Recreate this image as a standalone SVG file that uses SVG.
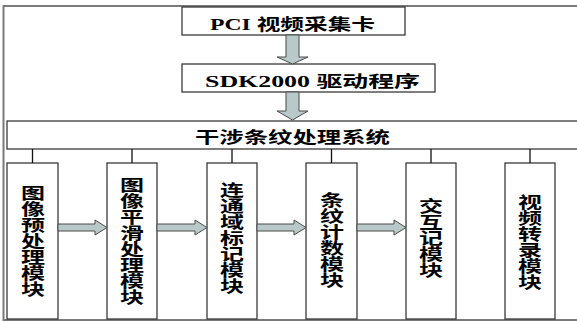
<svg xmlns="http://www.w3.org/2000/svg" width="577" height="322" viewBox="0 0 577 322">
<defs>
<style>
.box{fill:#fff;stroke:#3a3a3a;stroke-width:1.3}
.arr{fill:#b9c9c9;stroke:#4a4a4a;stroke-width:1}
.tick{stroke:#111;stroke-width:1.3}
.frame{fill:none;stroke:#7a7a7a;stroke-width:2}
.ht{font-family:"Liberation Serif","Noto Sans CJK SC",serif;font-weight:bold;font-size:16px;fill:#000}
.st{font-family:"Noto Sans CJK SC","Noto Sans",sans-serif;font-weight:bold;font-size:16px;fill:#000}
.vt{font-family:"Noto Sans CJK SC","Noto Sans",sans-serif;font-weight:bold;font-size:16px;fill:#000;writing-mode:vertical-rl;text-anchor:middle}
</style>
</defs>
<rect width="577" height="322" fill="#fff"/>
<path class="frame" d="M577,6 H3.5 V320 H577"/>

<g id="pci">
<rect class="box" x="182" y="7" width="223" height="28"/>
<text class="ht" x="210" y="30" textLength="165" lengthAdjust="spacingAndGlyphs">PCI 视频采集卡</text>
</g>
<g id="sdk">
<rect class="box" x="182" y="64" width="253" height="28"/>
<text class="ht" x="205" y="87" textLength="215" lengthAdjust="spacingAndGlyphs">SDK2000 驱动程序</text>
</g>
<g id="system">
<rect class="box" x="7" y="121" width="580" height="28"/>
<text class="st" x="195" y="143" textLength="195" lengthAdjust="spacingAndGlyphs">干涉条纹处理系统</text>
</g>

<g id="m1">
<rect class="box" x="7" y="163" width="51" height="156"/>
<text class="vt" transform="translate(33,241) scale(1.5,1)" x="0" y="0">图像预处理模块</text>
</g>
<g id="m2">
<rect class="box" x="107" y="163" width="50" height="156"/>
<text class="vt" transform="translate(132,241) scale(1.5,1)" x="0" y="0">图像平滑处理模块</text>
</g>
<g id="m3">
<rect class="box" x="207" y="163" width="50" height="156"/>
<text class="vt" transform="translate(232,238) scale(1.5,1)" x="0" y="0">连通域标记模块</text>
</g>
<g id="m4">
<rect class="box" x="306" y="163" width="51" height="156"/>
<text class="vt" transform="translate(332,240) scale(1.5,1)" x="0" y="0">条纹计数模块</text>
</g>
<g id="m5">
<rect class="box" x="406" y="163" width="50" height="156"/>
<text class="vt" transform="translate(431,238) scale(1.5,1)" x="0" y="0">交互记模块</text>
</g>
<g id="m6">
<rect class="box" x="505" y="163" width="50" height="156"/>
<text class="vt" transform="translate(530,242) scale(1.5,1)" x="0" y="0">视频转录模块</text>
</g>

<g id="connectors">
<path class="arr" d="M286,35 H299 V57 H308 L292.5,64 L277,57 H286 Z"/>
<path class="arr" d="M286,92 H299 V111 H308 L292.5,120 L277,111 H286 Z"/>
<line class="tick" x1="32.5" y1="149" x2="32.5" y2="163"/>
<line class="tick" x1="132" y1="149" x2="132" y2="163"/>
<line class="tick" x1="232" y1="149" x2="232" y2="163"/>
<line class="tick" x1="331.5" y1="149" x2="331.5" y2="163"/>
<line class="tick" x1="431" y1="149" x2="431" y2="163"/>
<line class="tick" x1="530" y1="149" x2="530" y2="163"/>
<path class="arr" d="M58,224 H95 V220 L107,227.5 L95,235 V231 H58 Z"/>
<path class="arr" d="M157,224 H195 V220 L207,227.5 L195,235 V231 H157 Z"/>
<path class="arr" d="M257,224 H294 V220 L306,227.5 L294,235 V231 H257 Z"/>
<path class="arr" d="M357,224 H394 V220 L406,227.5 L394,235 V231 H357 Z"/>
</g>
</svg>
